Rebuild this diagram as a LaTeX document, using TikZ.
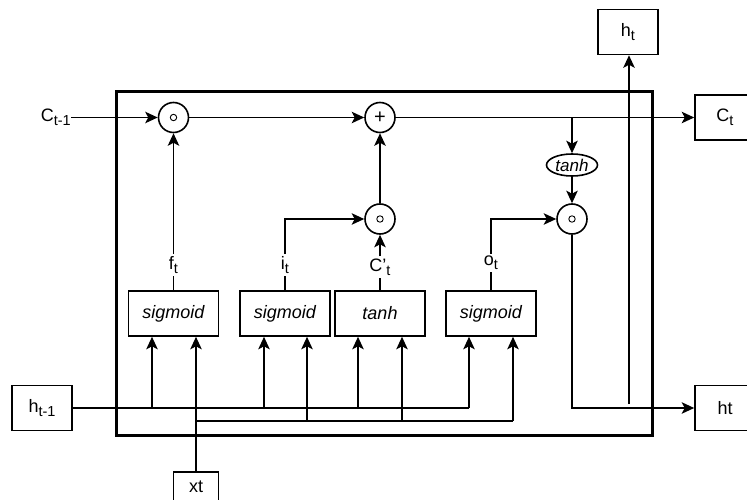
\documentclass[tikz,border=0pt]{standalone}
\usepackage{fontspec}
\setmainfont{Liberation Sans}
\usetikzlibrary{arrows.meta,shapes.geometric}
% lowered, smaller subscript text
\newcommand\lsb[1]{\raisebox{-4pt}{\fontsize{14.5}{14.5}\selectfont #1}}

\begin{document}
\begin{tikzpicture}[x=1pt,y=-1pt,
  every node/.style={font=\fontsize{18}{20}\selectfont},
  wire/.style={line width=1.6pt},
  arr/.style={wire,-{Stealth[length=12.5pt,width=11.5pt,inset=3pt]}},
  opnode/.style={circle,draw,line width=1.6pt,minimum size=30pt,inner sep=0pt,fill=white},
  gatebox/.style={draw,line width=1.6pt,minimum width=90pt,minimum height=45pt,inner sep=0pt,
    font=\fontsize{18}{20}\selectfont\itshape},
  iobox/.style={draw,line width=1.6pt,minimum width=60pt,minimum height=45pt,inner sep=0pt},
  lbl/.style={fill=white,inner sep=2pt}]

\useasboundingbox (0,0) rectangle (747,500);

% cell border
\node[draw,line width=3pt,minimum width=536pt,minimum height=343pt,inner sep=0pt] (cell) at (384,263.5) {};

% pointwise operations
\node[opnode] (c1) at (173.5,117.5) {};
\node[opnode,font=\fontsize{20}{20}\selectfont] (pl) at (380,117.5) {+};
\node[opnode] (c2) at (380,219) {};
\node[opnode] (c3) at (572,219) {};
\foreach \n in {c1,c2,c3} \draw[line width=0.9pt] (\n) circle (3.2pt);

\node[ellipse,draw,line width=1.6pt,minimum width=51pt,minimum height=22pt,inner sep=0pt,
  font=\fontsize{17}{18}\selectfont\itshape] (te) at (572,165) {tanh};

% gate layers
\node[gatebox] (s1) at (173.5,313.5) {sigmoid};
\node[gatebox] (s2) at (285,313.5) {sigmoid};
\node[gatebox] (s3) at (380,313.5) {tanh};
\node[gatebox] (s4) at (491,313.5) {sigmoid};

% inputs and outputs
\node[inner sep=0pt,anchor=east] (cm1) at (71,117.5) {C\lsb{t-1}};
\node[iobox] (hp) at (42,408) {h\lsb{t-1}};
\node[draw,line width=1.6pt,minimum width=45pt,minimum height=30pt,inner sep=0pt] (xt) at (196,487) {xt};
\node[iobox] (ct) at (725,117.5) {C\lsb{t}};
\node[iobox] (hT) at (628,32) {h\lsb{t}};
\node[iobox] (hR) at (725,408) {ht};

% gate output labels
\node[lbl] (ft) at (173.5,265) {f\lsb{t}};
\node[lbl] (it) at (285,265) {i\lsb{t}};
\node[lbl] (cc) at (380,267) {C'\lsb{t}};
\node[lbl] (ot) at (491,263) {o\lsb{t}};

% junction points
\coordinate (cb) at (572,117.5);
\coordinate (hsrc) at (629,404);
\coordinate (h1) at (152,408);
\coordinate (h2) at (264,408);
\coordinate (h3) at (358,408);
\coordinate (h4) at (469,408);
\coordinate (xk) at (196,406);
\coordinate (xj) at (196,421);
\coordinate (x2) at (307,421);
\coordinate (x3) at (402,421);
\coordinate (x4) at (513,421);

% cell state path
\draw[arr] (cm1.east) -- (c1.west);
\draw[arr] (c1.east) -- (pl.west);
\draw[arr] (pl.east) -- (ct.west);
\draw[arr] (cb) -- (te.north);
\draw[arr] (te.south) -- (c3.north);

% hidden state output
\draw[arr] (c3.south) |- (hR.west);
\draw[arr] (hsrc) -- (hsrc |- hT.south);

% gate outputs
\draw[wire] (s1.north) -- (ft.south);
\draw[arr] (ft.north) -- (c1.south);
\draw[wire] (s2.north) -- (it.south);
\draw[arr] (it.north) |- (c2.west);
\draw[wire] (s3.north) -- (cc.south);
\draw[arr] (cc.north) -- (c2.south);
\draw[arr] (c2.north) -- (pl.south);
\draw[wire] (s4.north) -- (ot.south);
\draw[arr] (ot.north) |- (c3.west);

% previous hidden state feed
\draw[wire] (hp.east) -- (h4);
\draw[arr] (h1) -- (h1 |- s1.south);
\draw[arr] (h2) -- (h2 |- s2.south);
\draw[arr] (h3) -- (h3 |- s3.south);
\draw[arr] (h4) -- (h4 |- s4.south);

% input feed
\draw[line width=2.6pt] (xt.north) -- (xk);
\draw[arr] (xj) -- (xj |- s1.south);
\draw[wire] (xj) -- (x4);
\draw[arr] (x2) -- (x2 |- s2.south);
\draw[arr] (x3) -- (x3 |- s3.south);
\draw[arr] (x4) -- (x4 |- s4.south);

\end{tikzpicture}
\end{document}
